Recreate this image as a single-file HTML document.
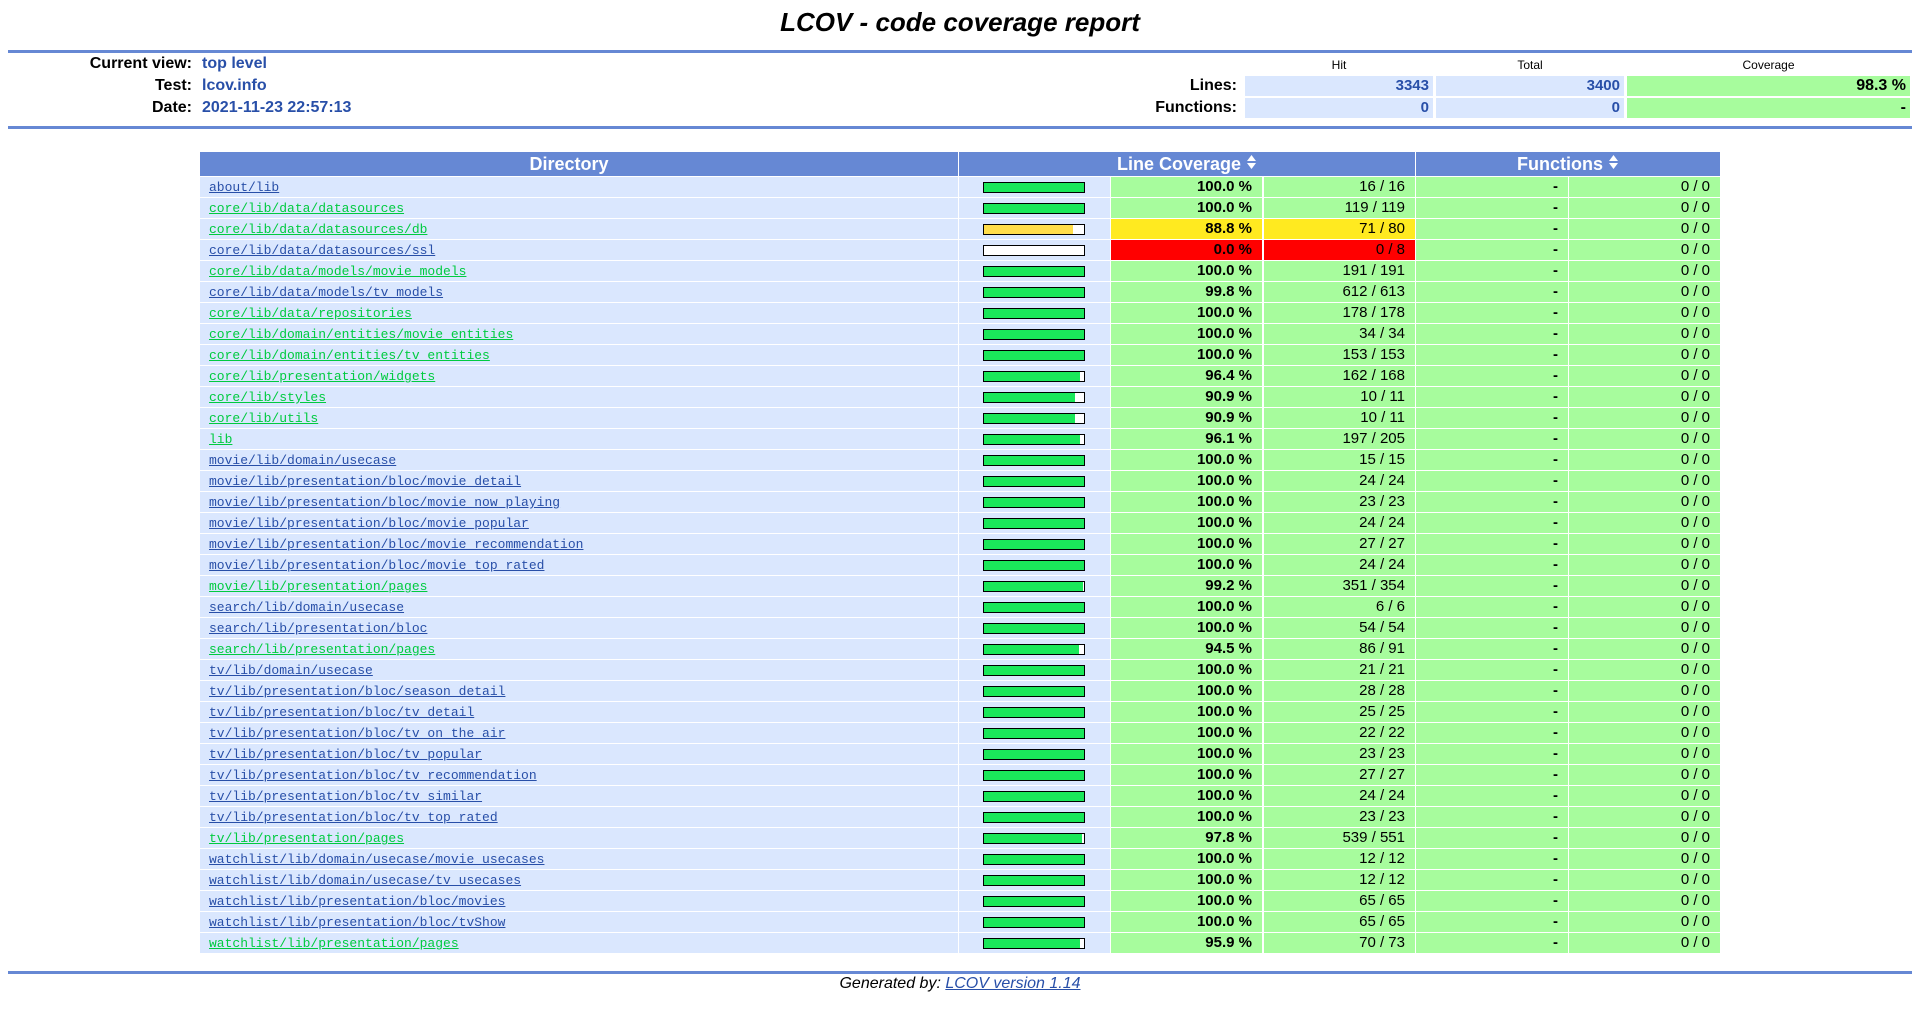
<!DOCTYPE html>
<html><head><meta charset="utf-8">
<style>
body{margin:0;width:1920px;height:1020px;background:#fff;font-family:"Liberation Sans",Arial,sans-serif;position:relative;overflow:hidden}
.abs{position:absolute}
.ruler{position:absolute;left:8px;width:1904px;height:3px;background:#6688d4}
.lbl{position:absolute;font-weight:bold;font-size:16px;color:#000;text-align:right}
.val{position:absolute;font-weight:bold;font-size:16px;color:#284fa8}
.cell{position:absolute;height:20px;box-sizing:border-box;font-size:15px;line-height:20px}
.hd{position:absolute;top:152px;height:24px;background:#6688d4;color:#fff;font-weight:bold;font-size:18px;line-height:24px;text-align:center;box-sizing:border-box}
a.dir{font-family:"Liberation Mono",monospace;font-size:13px}
</style></head><body>
<div class="abs" style="left:0;width:1920px;top:7px;text-align:center;font-size:26px;font-weight:bold;font-style:italic">LCOV - code coverage report</div>
<div class="ruler" style="top:50px"></div>
<div class="lbl" style="right:1728px;top:55px">Current view:</div>
<div class="val" style="left:202px;top:55px">top level</div>
<div class="lbl" style="right:1728px;top:77px">Test:</div>
<div class="val" style="left:202px;top:77px">lcov.info</div>
<div class="lbl" style="right:1728px;top:99px">Date:</div>
<div class="val" style="left:202px;top:99px">2021-11-23 22:57:13</div>

<div class="abs" style="left:1245px;width:188px;top:58px;text-align:center;font-size:12px">Hit</div>
<div class="abs" style="left:1436px;width:188px;top:58px;text-align:center;font-size:12px">Total</div>
<div class="abs" style="left:1627px;width:283px;top:58px;text-align:center;font-size:12px">Coverage</div>
<div class="lbl" style="right:683px;top:77px">Lines:</div>
<div class="lbl" style="right:683px;top:99px">Functions:</div>
<div class="cell val" style="left:1245px;width:188px;top:76px;background:#dae7fe;text-align:right;padding-right:4px;line-height:20px">3343</div>
<div class="cell val" style="left:1436px;width:188px;top:76px;background:#dae7fe;text-align:right;padding-right:4px;line-height:20px">3400</div>
<div class="cell" style="left:1627px;width:283px;top:76px;background:#a7fc9d;text-align:right;padding-right:4px;font-weight:bold;font-size:16px">98.3 %</div>
<div class="cell val" style="left:1245px;width:188px;top:98px;background:#dae7fe;text-align:right;padding-right:4px;line-height:20px">0</div>
<div class="cell val" style="left:1436px;width:188px;top:98px;background:#dae7fe;text-align:right;padding-right:4px;line-height:20px">0</div>
<div class="cell" style="left:1627px;width:283px;top:98px;background:#a7fc9d;text-align:right;padding-right:4px;font-weight:bold;font-size:16px">-</div>
<div class="ruler" style="top:126px"></div>

<div class="hd" style="left:200px;width:758px;padding-right:20px">Directory</div>
<div class="hd" style="left:959px;width:456px">Line Coverage <svg width="11" height="16" viewBox="0 0 11 16"><path d="M1 7L5.5 1L10 7Z M1 9L5.5 15L10 9Z" fill="#fff"/></svg></div>
<div class="hd" style="left:1416px;width:304px">Functions <svg width="11" height="16" viewBox="0 0 11 16"><path d="M1 7L5.5 1L10 7Z M1 9L5.5 15L10 9Z" fill="#fff"/></svg></div>
<div id="rows"></div>
<div class="ruler" style="top:971px"></div>
<div class="abs" style="left:0;width:1920px;top:975px;text-align:center;font-size:16px;font-style:italic">Generated by: <a href="#" style="color:#284fa8">LCOV version 1.14</a></div>
<script>
const dirs=["about/lib","core/lib/data/datasources","core/lib/data/datasources/db","core/lib/data/datasources/ssl","core/lib/data/models/movie_models","core/lib/data/models/tv_models","core/lib/data/repositories","core/lib/domain/entities/movie_entities","core/lib/domain/entities/tv_entities","core/lib/presentation/widgets","core/lib/styles","core/lib/utils","lib","movie/lib/domain/usecase","movie/lib/presentation/bloc/movie_detail","movie/lib/presentation/bloc/movie_now_playing","movie/lib/presentation/bloc/movie_popular","movie/lib/presentation/bloc/movie_recommendation","movie/lib/presentation/bloc/movie_top_rated","movie/lib/presentation/pages","search/lib/domain/usecase","search/lib/presentation/bloc","search/lib/presentation/pages","tv/lib/domain/usecase","tv/lib/presentation/bloc/season_detail","tv/lib/presentation/bloc/tv_detail","tv/lib/presentation/bloc/tv_on_the_air","tv/lib/presentation/bloc/tv_popular","tv/lib/presentation/bloc/tv_recommendation","tv/lib/presentation/bloc/tv_similar","tv/lib/presentation/bloc/tv_top_rated","tv/lib/presentation/pages","watchlist/lib/domain/usecase/movie_usecases","watchlist/lib/domain/usecase/tv_usecases","watchlist/lib/presentation/bloc/movies","watchlist/lib/presentation/bloc/tvShow","watchlist/lib/presentation/pages"];
const hits=[16,119,71,0,191,612,178,34,153,162,10,10,197,15,24,23,24,27,24,351,6,54,86,21,28,25,22,23,27,24,23,539,12,12,65,65,70];
const totals=[16,119,80,8,191,613,178,34,153,168,11,11,205,15,24,23,24,27,24,354,6,54,91,21,28,25,22,23,27,24,23,551,12,12,65,65,73];
const visited=[0,1,1,0,1,0,1,1,1,1,1,1,1,0,0,0,0,0,0,1,0,0,1,0,0,0,0,0,0,0,0,1,0,0,0,0,1];
const root=document.getElementById('rows');
function cell(left,w,top,bg){const d=document.createElement('div');d.className='cell';d.style.left=left+'px';d.style.width=w+'px';d.style.top=top+'px';d.style.background=bg;root.appendChild(d);return d;}
dirs.forEach((name,i)=>{
 const top=177+i*21;
 const raw=hits[i]/totals[i]*100;
 let pct=Math.round(raw*10)/10;
 if(pct===100&&hits[i]<totals[i])pct=99.9;
 const bg=pct>=90?'#a7fc9d':(pct>=75?'#ffea20':'#ff0000');
 const barc=pct>=90?'#1ae85a':(pct>=75?'#ffdd4a':'#ff0000');
 const d=cell(200,758,top,'#dae7fe');
 
 
 d.style.paddingLeft='9px';
 const a=document.createElement('a');a.href='#';a.className='dir';a.textContent=name;a.style.color=visited[i]?'#00cb40':'#284fa8';
 
 
 d.appendChild(a);
 const b=cell(959,151,top,'#dae7fe');
 
 
 const bar=document.createElement('div');
 
 
 bar.style.cssText='position:absolute;left:24px;top:5px;width:102px;height:11px;border:1px solid #000;box-sizing:border-box;background:#fff';
 const fill=document.createElement('div');
 
 
 fill.style.cssText='height:100%;background:'+barc+';width:'+raw+'%';
 bar.appendChild(fill);b.appendChild(bar);
 const p=cell(1111,151,top,bg);
 
 
 p.style.textAlign='right';p.style.paddingRight='10px';p.style.fontWeight='bold';p.textContent=pct.toFixed(1)+' %';
 const c=cell(1264,151,top,bg);
 
 
 c.style.textAlign='right';c.style.paddingRight='10px';c.textContent=hits[i]+' / '+totals[i];
 const f=cell(1416,152,top,'#a7fc9d');
 
 
 f.style.textAlign='right';f.style.paddingRight='10px';f.style.fontWeight='bold';f.textContent='-';
 const g=cell(1569,151,top,'#a7fc9d');
 
 
 g.style.textAlign='right';g.style.paddingRight='10px';g.textContent='0 / 0';
});
</script>
</body></html>
